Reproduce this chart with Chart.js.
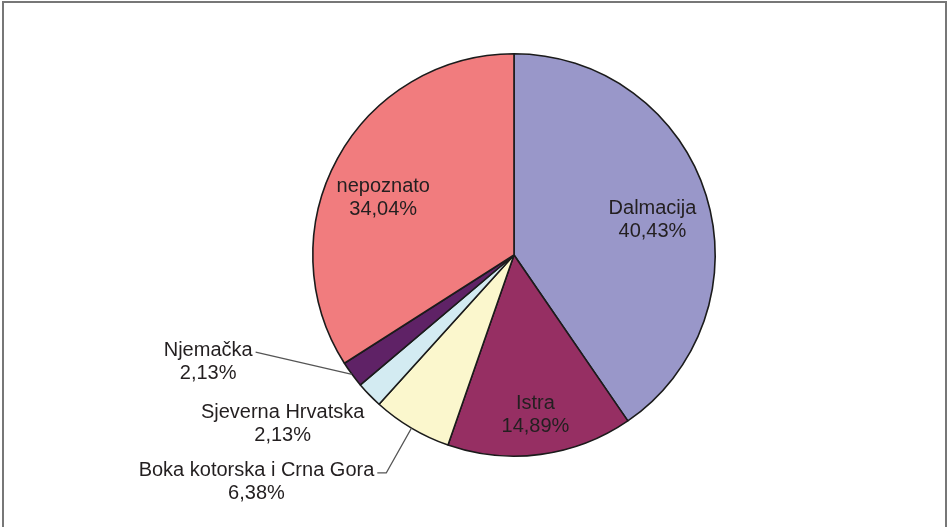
<!DOCTYPE html>
<html>
<head>
<meta charset="utf-8">
<script src="https://cdn.jsdelivr.net/npm/chart.js@4.4.0/dist/chart.umd.min.js"></script>
<style>
  html, body { margin: 0; padding: 0; background: #fff; }
  body { width: 948px; height: 527px; position: relative; overflow: hidden; }
  #frame { position: absolute; left: 2px; top: 1px; width: 941px; height: 600px; border: 2px solid #777; }
  #c { position: absolute; left: 0; top: 0; }
</style>
</head>
<body>
<div id="frame"></div>
<canvas id="c" width="948" height="527"></canvas>
<script>
// data (clockwise from 12 o'clock)
const regions = ['Dalmacija', 'Istra', 'Boka kotorska i Crna Gora', 'Sjeverna Hrvatska', 'Njemačka', 'nepoznato'];
const shares = [40.43, 14.89, 6.38, 2.13, 2.13, 34.04];

const sliceColors = ['#9997c9', '#962f63', '#fbf7cd', '#d3ebf2', '#5f2266', '#f17c7e'];

// where each label goes: inside (radial fraction) or outside (offset from centre in radii)
const labelPlace = [
  { inside: 0.71, turn: 3 },
  { inside: 0.80, turn: 0 },
  { outside: [-1.28, 1.13], leader: 'elbow' },
  { outside: [-1.15, 0.84] },
  { outside: [-1.52, 0.53], leader: 'straight' },
  { inside: 0.71, turn: -5 }
];

const FONT = '20px "Liberation Sans", Arial, sans-serif';
const LINE_H = 23;

function fmtPct(v) {
  return v.toFixed(2).replace('.', ',') + '%';
}

const pieLabels = {
  id: 'pieLabels',
  afterDatasetsDraw(chart) {
    const ctx = chart.ctx;
    const arcs = chart.getDatasetMeta(0).data;
    ctx.save();
    ctx.font = FONT;
    ctx.fillStyle = '#231f20';
    ctx.textAlign = 'center';
    ctx.textBaseline = 'middle';
    arcs.forEach((arc, i) => {
      const p = arc.getProps(['x', 'y', 'startAngle', 'endAngle', 'outerRadius'], true);
      const cfg = labelPlace[i];
      const mid = (p.startAngle + p.endAngle) / 2;
      let tx, ty;
      if (cfg.inside) {
        const a = mid + (cfg.turn || 0) * Math.PI / 180;
        tx = p.x + Math.cos(a) * p.outerRadius * cfg.inside;
        ty = p.y + Math.sin(a) * p.outerRadius * cfg.inside;
      } else {
        tx = p.x + cfg.outside[0] * p.outerRadius;
        ty = p.y + cfg.outside[1] * p.outerRadius;
      }
      const l1 = chart.data.labels[i];
      const l2 = fmtPct(chart.data.datasets[0].data[i]);
      ctx.fillText(l1, tx, ty - LINE_H / 2);
      ctx.fillText(l2, tx, ty + LINE_H / 2);

      if (cfg.leader) {
        const ex = p.x + Math.cos(mid) * p.outerRadius;
        const ey = p.y + Math.sin(mid) * p.outerRadius;
        const w = ctx.measureText(l1).width;
        const sx = tx + w / 2 + 3;
        const sy = ty - LINE_H / 2 + 2;
        ctx.strokeStyle = '#555';
        ctx.lineWidth = 1.2;
        ctx.beginPath();
        ctx.moveTo(sx, sy);
        if (cfg.leader === 'elbow') {
          ctx.lineTo(sx + 9, sy);
          ctx.lineTo(ex, ey);
        } else {
          ctx.lineTo(ex, ey);
        }
        ctx.stroke();
      }
    });
    ctx.restore();
  }
};

new Chart(document.getElementById('c'), {
  type: 'pie',
  data: {
    labels: regions,
    datasets: [{
      data: shares,
      backgroundColor: sliceColors,
      borderColor: '#1b1b1b',
      borderWidth: 1.6
    }]
  },
  options: {
    responsive: false,
    animation: false,
    layout: { padding: { top: 53, bottom: 70, left: 200, right: 120 } },
    plugins: {
      legend: { display: false },
      tooltip: { enabled: false }
    }
  },
  plugins: [pieLabels]
});
</script>
</body>
</html>
